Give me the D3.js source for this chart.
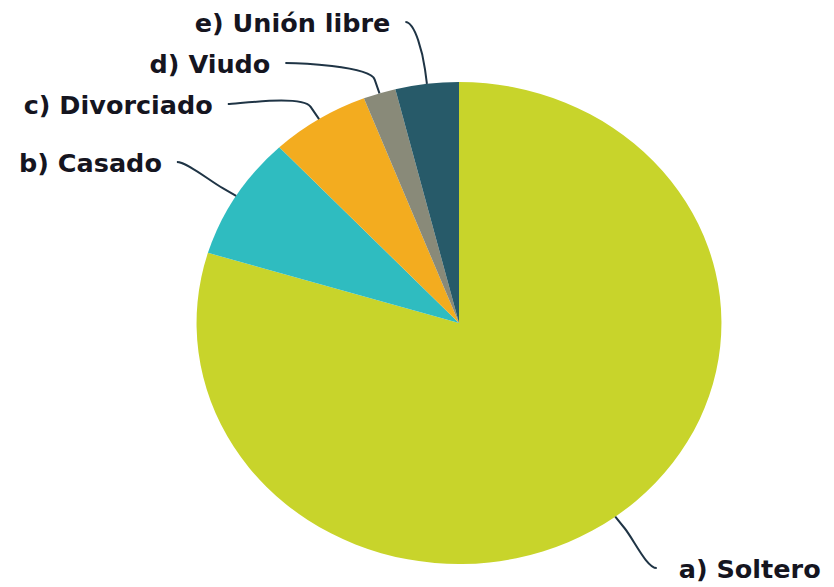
<!DOCTYPE html>
<meta charset="utf-8">
<title>Estado civil</title>
<script src="https://d3js.org/d3.v7.min.js"></script>
<style>
  body { margin: 0; background: #fff; }
  text { font-family: "DejaVu Sans", Verdana, sans-serif; font-weight: bold; font-size: 25.5px; fill: #15151f; }
</style>
<body>
<svg width="834" height="587"></svg>
<script>
  var categories = ["a) Soltero", "b) Casado", "c) Divorciado", "d) Viudo", "e) Unión libre"];
  var values = [79.7, 8.3, 6.1, 2.0, 3.9];
  var colors = ["#c8d42b", "#2fbcc0", "#f3ac1f", "#898a79", "#275a69"];

  var svg = d3.select("svg");
  var cx = 459, cy = 323, ry = 241, kx = 1.089; // pie is a bit wider than tall
  var labelR = 305, breakR = ry * 1.06, minY = 22, gap = 41;

  var pie = d3.pie().sort(null).value(function (d) { return d.v; });
  var arcs = pie(categories.map(function (c, i) { return { name: c, v: values[i], color: colors[i] }; }));
  var arc = d3.arc().innerRadius(0).outerRadius(ry);

  var g = svg.append("g").attr("transform", "translate(" + cx + "," + cy + ")");

  g.append("g")
    .attr("transform", "scale(" + kx + ",1)")
    .selectAll("path")
    .data(arcs)
    .enter().append("path")
    .attr("d", arc)
    .attr("fill", function (d) { return d.data.color; });

  function pt(a, r) { return [Math.sin(a) * r * kx, -Math.cos(a) * r]; }

  // natural label spot on a wider ring, then push apart on each side
  arcs.forEach(function (d) {
    d.mid = (d.startAngle + d.endAngle) / 2;
    d.right = d.mid < Math.PI;
    d.ly = -Math.cos(d.mid) * labelR;
  });
  [true, false].forEach(function (side) {
    var prev = -Infinity;
    arcs.filter(function (d) { return d.right === side; })
      .sort(function (a, b) { return a.ly - b.ly; })
      .forEach(function (d) {
        d.ly = Math.max(d.ly, minY - cy, prev + gap);
        prev = d.ly;
      });
  });
  arcs.forEach(function (d) {
    var dx = Math.sqrt(Math.max(0, labelR * labelR - d.ly * d.ly)) * kx;
    d.lx = d.right ? dx : -dx;
  });

  // connectors
  g.append("g")
    .selectAll("path")
    .data(arcs)
    .enter().append("path")
    .attr("fill", "none")
    .attr("stroke", "#1f3445")
    .attr("stroke-width", 2)
    .attr("d", function (d) {
      var a = pt(d.mid, ry), b = pt(d.mid, breakR);
      var s = d.right ? -1 : 1;
      return "M" + d.lx + "," + d.ly +
        "C" + (d.lx + s * 10) + "," + d.ly + " " +
        (2 * b[0] - a[0]) + "," + (2 * b[1] - a[1]) + " " +
        b[0] + "," + b[1] +
        "L" + a[0] + "," + a[1];
    });

  // labels
  g.append("g")
    .selectAll("text")
    .data(arcs)
    .enter().append("text")
    .attr("x", function (d) { return d.right ? d.lx + 22 : d.lx - 15; })
    .attr("y", function (d) { return d.ly + 9.5; })
    .attr("text-anchor", function (d) { return d.right ? "start" : "end"; })
    .text(function (d) { return d.data.name; });
</script>
</body>
